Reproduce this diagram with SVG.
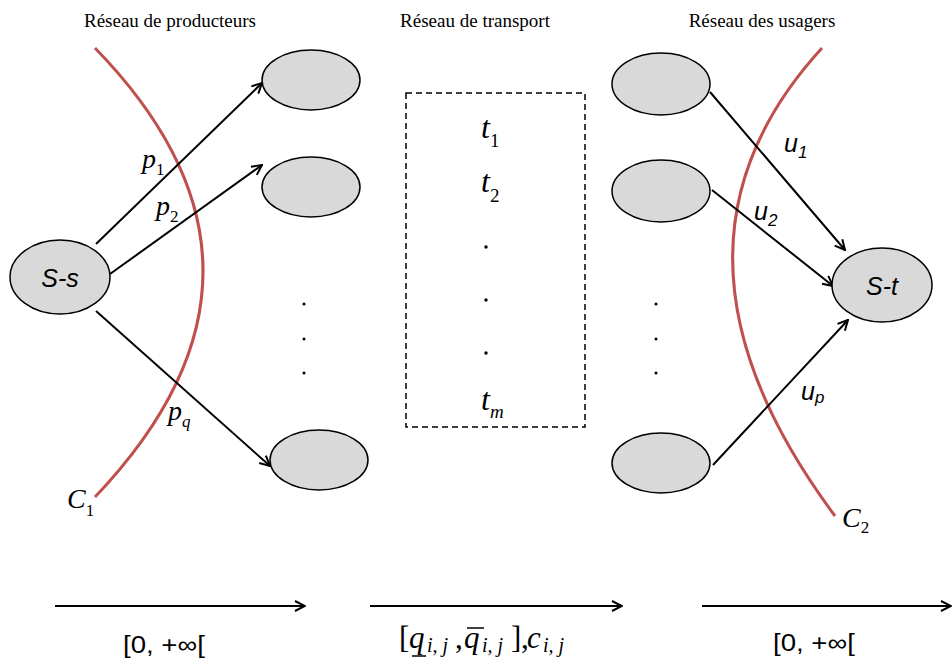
<svg xmlns="http://www.w3.org/2000/svg" width="952" height="664" viewBox="0 0 952 664">
<defs>
<style>
.node{fill:#d9d9d9;stroke:#000;stroke-width:1.5}
.edge{stroke:#000;stroke-width:2;fill:none;marker-end:url(#arr)}
.cut{stroke:#c0504d;stroke-width:3;fill:none}
.title{font-family:"Liberation Serif",serif;font-size:19px;fill:#000;text-anchor:middle}
.math{font-family:"Liberation Serif",serif;font-style:italic;fill:#000}
.up{font-style:normal}
.sans{font-family:"Liberation Sans",sans-serif;fill:#000}
.it{font-style:italic}
.dot{fill:#000}
</style>
<marker id="arr" viewBox="0 0 12 12" refX="11" refY="6" markerWidth="12" markerHeight="12" orient="auto" markerUnits="userSpaceOnUse">
<path d="M1,1 L11,6 L1,11" fill="none" stroke="#000" stroke-width="2"/>
</marker>
</defs>
<rect width="952" height="664" fill="#fff"/>

<g id="titles">
<text class="title" x="170" y="27">Réseau de producteurs</text>
<text class="title" x="475" y="27">Réseau de transport</text>
<text class="title" x="762" y="27">Réseau des usagers</text>
</g>

<g id="cuts">
<path class="cut" d="M95,48 Q311,270 95,497"/>
<path class="cut" d="M822,48 Q637,250 835,516"/>
<text class="math" x="67" y="508" font-size="28">C<tspan class="up" font-size="17" dy="8">1</tspan></text>
<text class="math" x="842" y="527" font-size="28">C<tspan class="up" font-size="17" dy="6">2</tspan></text>
</g>

<g id="connectors">
<line class="edge" x1="96" y1="244" x2="262" y2="83"/>
<line class="edge" x1="110" y1="274" x2="262" y2="165"/>
<line class="edge" x1="96" y1="311" x2="270" y2="466"/>
<line class="edge" x1="710" y1="92" x2="845" y2="250"/>
<line class="edge" x1="712" y1="190" x2="833" y2="286"/>
<line class="edge" x1="713" y1="465" x2="848" y2="320"/>
<line class="edge" x1="55" y1="606" x2="305" y2="606"/>
<line class="edge" x1="370" y1="606" x2="622" y2="606"/>
<line class="edge" x1="702" y1="606" x2="951" y2="606"/>
</g>

<g id="edge-labels">
<text class="math" x="142" y="168" font-size="28">p<tspan class="up" font-size="17" dy="7">1</tspan></text>
<text class="math" x="156" y="215" font-size="28">p<tspan class="up" font-size="17" dy="7">2</tspan></text>
<text class="math" x="168" y="420" font-size="28">p<tspan font-size="17" dy="7">q</tspan></text>
<text class="sans it" x="784" y="152" font-size="25">u<tspan font-size="17" dy="6">1</tspan></text>
<text class="sans it" x="754" y="220" font-size="25">u<tspan font-size="17" dy="6">2</tspan></text>
<text class="sans it" x="801" y="400" font-size="25">u<tspan font-size="17" dy="3">p</tspan></text>
</g>

<g id="S-s">
<ellipse class="node" cx="60" cy="277" rx="50" ry="37"/>
<text class="sans it" x="60" y="287" font-size="25" text-anchor="middle">S-s</text>
</g>
<g id="S-t">
<ellipse class="node" cx="882" cy="285" rx="50" ry="37"/>
<text class="sans it" x="882" y="295" font-size="25" text-anchor="middle">S-t</text>
</g>

<g id="prod1"><ellipse class="node" cx="311" cy="80" rx="49" ry="30"/></g>
<g id="prod2"><ellipse class="node" cx="311" cy="187" rx="49" ry="30"/></g>
<g id="prodq"><ellipse class="node" cx="319" cy="460" rx="49" ry="30"/></g>
<g id="user1"><ellipse class="node" cx="661" cy="84" rx="49" ry="31"/></g>
<g id="user2"><ellipse class="node" cx="661" cy="191" rx="49" ry="31"/></g>
<g id="userp"><ellipse class="node" cx="661" cy="463" rx="49" ry="30"/></g>

<g id="left-dots">
<circle class="dot" cx="304" cy="304" r="1.5"/>
<circle class="dot" cx="304" cy="339" r="1.5"/>
<circle class="dot" cx="304" cy="373" r="1.5"/>
</g>
<g id="right-dots">
<circle class="dot" cx="656" cy="304" r="1.5"/>
<circle class="dot" cx="656" cy="339" r="1.5"/>
<circle class="dot" cx="656" cy="373" r="1.5"/>
</g>

<g id="transport">
<rect x="406" y="93" width="179" height="334" fill="none" stroke="#000" stroke-width="1.5" stroke-dasharray="6,4"/>
<text class="math" x="481" y="138" font-size="32">t<tspan class="up" font-size="19" dy="9">1</tspan></text>
<text class="math" x="481" y="192" font-size="32">t<tspan class="up" font-size="19" dy="10">2</tspan></text>
<circle class="dot" cx="486" cy="247" r="1.7"/>
<circle class="dot" cx="486" cy="300" r="1.7"/>
<circle class="dot" cx="486" cy="353" r="1.7"/>
<text class="math" x="481" y="410" font-size="32">t<tspan font-size="19" dy="8">m</tspan></text>
</g>

<g id="bottom-labels">
<text class="sans" font-size="24" transform="translate(123,653) scale(1.15,1)">[0, +∞[</text>
<text class="sans" font-size="24" transform="translate(773,651) scale(1.15,1)">[0, +∞[</text>
<text class="math" font-size="31">
<tspan class="up" x="399" y="648">[</tspan><tspan x="409" y="648">q</tspan><tspan font-size="20" x="427" y="652">i, j</tspan><tspan class="up" x="455" y="648">,</tspan><tspan x="464" y="648">q</tspan><tspan font-size="20" x="482" y="652">i, j</tspan><tspan class="up" x="511" y="648">]</tspan><tspan class="up" x="521" y="648">,</tspan><tspan x="527" y="648">c</tspan><tspan font-size="20" x="543" y="652">i, j</tspan>
</text>
<line x1="412" y1="656" x2="426" y2="656" stroke="#000" stroke-width="1.5"/>
<line x1="467" y1="628" x2="484" y2="628" stroke="#000" stroke-width="1.5"/>
</g>
</svg>
